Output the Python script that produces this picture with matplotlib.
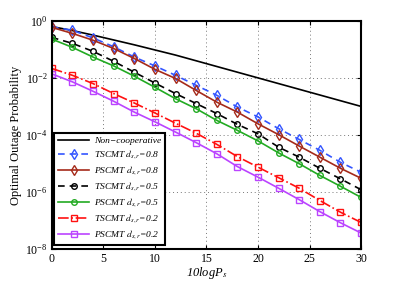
import matplotlib
matplotlib.use("Agg")
import matplotlib.pyplot as plt
import numpy as np

plt.rcParams['font.family'] = ['Liberation Serif', 'DejaVu Serif']
plt.rcParams['mathtext.fontset'] = 'stix'

snr_db = [0, 2, 4, 6, 8, 10, 12, 14, 16, 18, 20, 22, 24, 26, 28, 30]

# log10 of outage probability
noncoop = [-0.20, -0.34, -0.50, -0.67, -0.84, -1.02, -1.20, -1.40, -1.60, -1.80,
           -2.00, -2.20, -2.40, -2.60, -2.80, -3.00]
ts_08 = [-0.21, -0.33, -0.60, -0.91, -1.27, -1.58, -1.91, -2.26, -2.61, -3.02,
         -3.37, -3.78, -4.16, -4.54, -4.96, -5.31]
ps_08 = [-0.23, -0.44, -0.68, -0.97, -1.32, -1.70, -2.02, -2.44, -2.85, -3.20,
         -3.61, -3.99, -4.39, -4.78, -5.17, -5.52]
ts_05 = [-0.58, -0.79, -1.07, -1.42, -1.80, -2.18, -2.55, -2.90, -3.25, -3.63,
         -3.96, -4.43, -4.78, -5.17, -5.54, -5.92]
ps_05 = [-0.64, -0.93, -1.27, -1.58, -1.94, -2.33, -2.73, -3.08, -3.49, -3.84,
         -4.21, -4.63, -5.01, -5.42, -5.80, -6.19]
ts_02 = [-1.67, -1.91, -2.20, -2.55, -2.88, -3.23, -3.59, -3.94, -4.33, -4.76,
         -5.13, -5.50, -5.87, -6.30, -6.71, -7.07]
ps_02 = [-1.86, -2.14, -2.47, -2.82, -3.20, -3.54, -3.90, -4.27, -4.66, -5.11,
         -5.48, -5.87, -6.27, -6.69, -7.08, -7.44]

labels = ['Non\u2212cooperative',
          r'TSCMT $d_{s,r}$=0.8', r'PSCMT $d_{s,r}$=0.8',
          r'TSCMT $d_{s,r}$=0.5', r'PSCMT $d_{s,r}$=0.5',
          r'TSCMT $d_{s,r}$=0.2', r'PSCMT $d_{s,r}$=0.2']

fig = plt.figure(figsize=(3.99, 2.82), dpi=100)
ax = fig.add_axes([0.130, 0.117, 0.775, 0.809])

x = np.array(snr_db)
def p(v):
    return 10.0 ** np.array(v)

lw = 1.2
ms = 4
ax.plot(x, p(noncoop), '-', color='black', lw=lw, label=labels[0])
ax.plot(x, p(ts_08), '--', color='#3355ff', lw=lw, marker='d', ms=ms+0.8,
        mfc='none', mew=1.0, label=labels[1], dashes=(4, 3))
ax.plot(x, p(ps_08), '-', color='#a52a1a', lw=lw, marker='d', ms=ms+0.8,
        mfc='none', mew=1.0, label=labels[2])
ax.plot(x, p(ts_05), '--', color='black', lw=lw, marker='o', ms=ms,
        mfc='none', mew=1.0, label=labels[3], dashes=(4, 3))
ax.plot(x, p(ps_05), '-', color='#22aa22', lw=lw, marker='o', ms=ms,
        mfc='none', mew=1.0, label=labels[4])
ax.plot(x, p(ts_02), '-.', color='#ff1111', lw=lw, marker='s', ms=ms,
        mfc='none', mew=1.0, label=labels[5])
ax.plot(x, p(ps_02), '-', color='#bb44ff', lw=lw, marker='s', ms=ms,
        mfc='none', mew=1.0, label=labels[6])

ax.set_yscale('log')
ax.set_xlim(0, 30)
ax.set_ylim(1e-8, 1)
ax.set_xticks([0, 5, 10, 15, 20, 25, 30])
ax.set_yticks([1e0, 1e-2, 1e-4, 1e-6, 1e-8])
ax.yaxis.set_minor_locator(matplotlib.ticker.NullLocator())
ax.tick_params(direction='in', labelsize=8.5, length=3, width=0.8, top=True, right=True, pad=3)
ax.grid(True, which='major', linestyle=(0, (1, 3)), color='#777777', lw=0.7)
for s in ax.spines.values():
    s.set_linewidth(1.5)

ax.set_xlabel(r'10logP$_{s}$', fontsize=9, labelpad=0, fontstyle='italic')
ax.set_ylabel('Optimal Outage Probability', fontsize=9, labelpad=2)

leg = ax.legend(loc='lower left', bbox_to_anchor=(0.008, 0.018), borderaxespad=0,
                handlelength=3.3, labelspacing=0.36, fancybox=False,
                framealpha=1, edgecolor='black', borderpad=0.4, handletextpad=0.5,
                prop={'family': 'Liberation Serif', 'style': 'italic', 'size': 6.8})
leg.get_frame().set_linewidth(1.5)

fig.savefig('out.png', dpi=100)
